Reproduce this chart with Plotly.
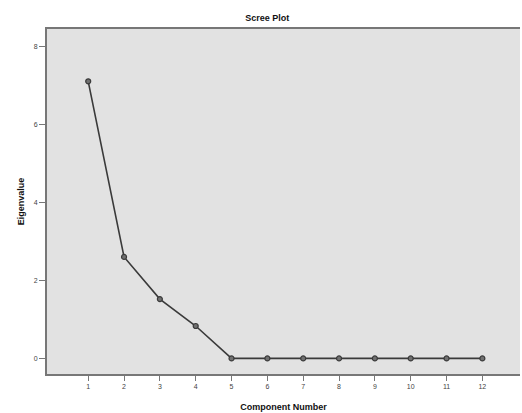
import plotly.graph_objects as go

components = [1, 2, 3, 4, 5, 6, 7, 8, 9, 10, 11, 12]
eigenvalues = [7.10, 2.60, 1.52, 0.83, 0.0, 0.0, 0.0, 0.0, 0.0, 0.0, 0.0, 0.0]
y_ticks = [0, 2, 4, 6, 8]

fig = go.Figure()
fig.add_trace(go.Scatter(
    x=components, y=eigenvalues, mode="lines+markers",
    line=dict(color="#3a3a3a", width=1.6),
    marker=dict(symbol="circle", size=5, color="#707070",
                line=dict(color="#3a3a3a", width=1.2)),
    showlegend=False,
))

fig.update_layout(
    width=522, height=413,
    margin=dict(l=47, r=2, t=29, b=39),
    paper_bgcolor="white",
    plot_bgcolor="#e2e2e2",
    font=dict(family="Liberation Sans, Arial, sans-serif", color="#222"),
    title=dict(text="<b>Scree Plot</b>", x=0.512, xanchor="center",
               y=1 - 18 / 413, yanchor="middle",
               font=dict(size=9, color="#111")),
)
fig.update_xaxes(
    range=[-0.15, 13.05], tickmode="array", tickvals=components,
    ticktext=[str(c) for c in components],
    ticks="outside", ticklen=5, tickcolor="#777", tickwidth=1,
    tickfont=dict(size=7, color="#444"),
    showgrid=False, zeroline=False,
    showline=True, linecolor="#777", linewidth=2, mirror=True,
    title=dict(text="<b>Component Number</b>", font=dict(size=9, color="#111"),
               standoff=14),
)
fig.update_yaxes(
    range=[-0.4, 8.44], tickmode="array", tickvals=y_ticks,
    ticktext=[str(v) for v in y_ticks],
    ticks="outside", ticklen=6, tickcolor="#777", tickwidth=1,
    tickfont=dict(size=7, color="#444"),
    showgrid=False, zeroline=False,
    showline=True, linecolor="#777", linewidth=2, mirror=False,
    title=dict(text="<b>Eigenvalue</b>", font=dict(size=9, color="#111"),
               standoff=8),
)

fig.write_html("out.html")
